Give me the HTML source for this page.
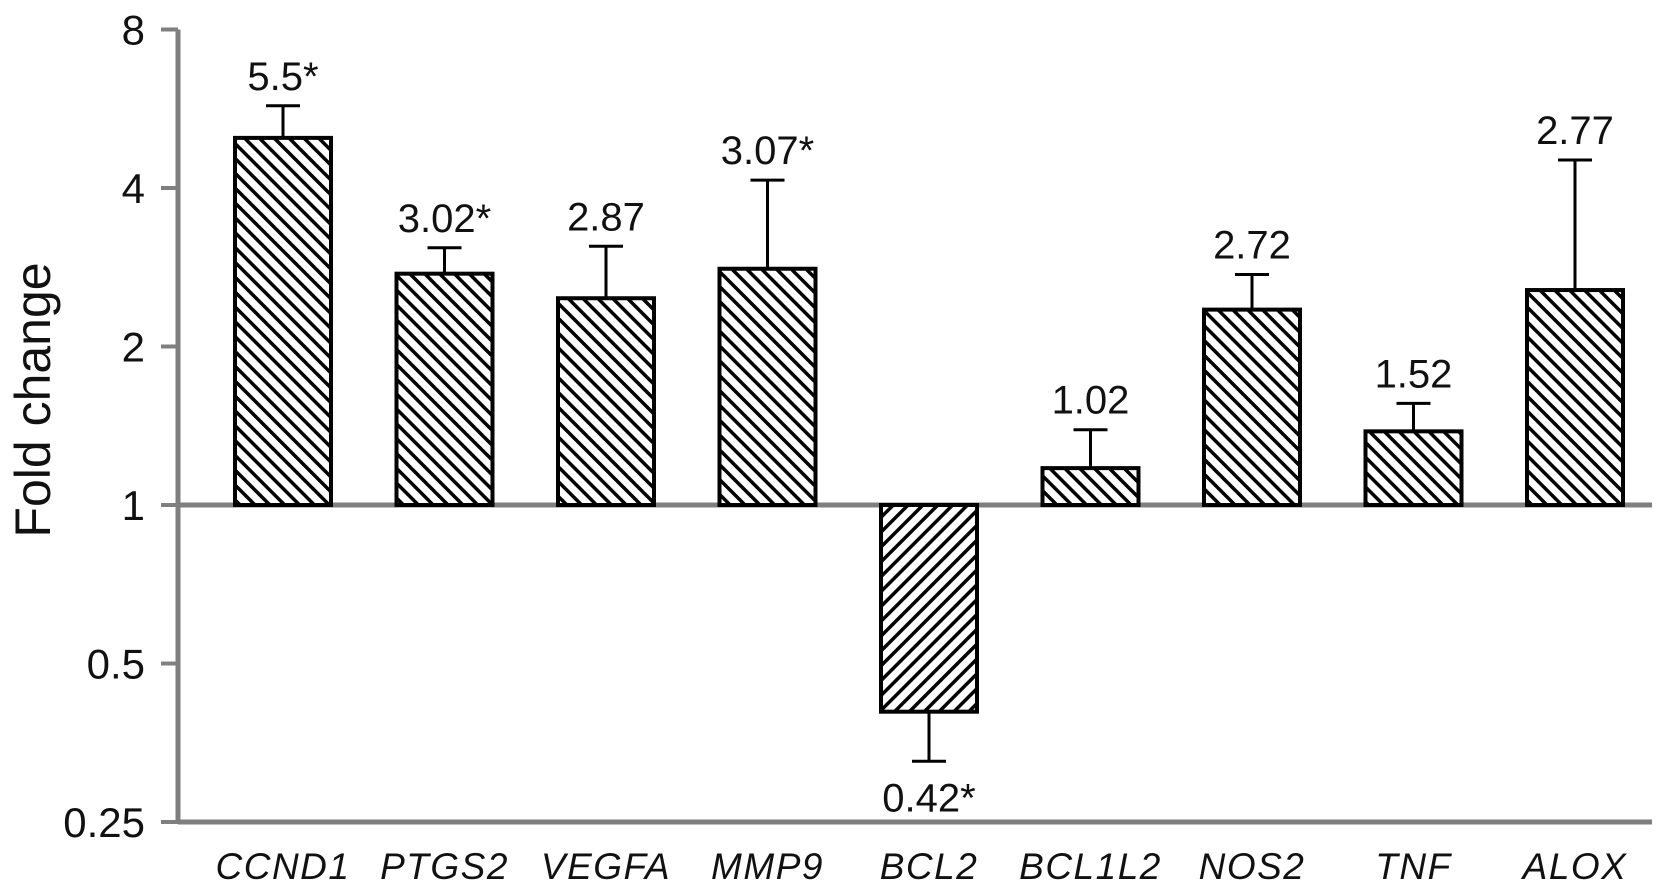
<!DOCTYPE html>
<html><head><meta charset="utf-8"><style>
html,body{margin:0;padding:0;background:#fff;}
svg{display:block;font-family:"Liberation Sans",Arial,sans-serif;}
</style></head><body>
<svg id="chart" width="1677" height="895" viewBox="0 0 1677 895">
<defs>
<pattern id="hatchA" patternUnits="userSpaceOnUse" width="10.5" height="10.5" patternTransform="rotate(-45)">
<rect width="10.5" height="10.5" fill="#fff"/><line x1="0" y1="0" x2="0" y2="10.5" stroke="#000" stroke-width="7"/></pattern>
<pattern id="hatchB" patternUnits="userSpaceOnUse" width="10.5" height="10.5" patternTransform="rotate(45)">
<rect width="10.5" height="10.5" fill="#fff"/><line x1="0" y1="0" x2="0" y2="10.5" stroke="#000" stroke-width="7"/></pattern>
</defs>
<g id="axes"></g>
<g id="bars"></g>
<text transform="translate(50,400) rotate(-90)" text-anchor="middle" font-size="50" fill="#111">Fold change</text>
</svg>
<script>
const categories = ["CCND1","PTGS2","VEGFA","MMP9","BCL2","BCL1L2","NOS2","TNF","ALOX"];
const values = [4.98, 2.75, 2.47, 2.81, 0.405, 1.175, 2.35, 1.38, 2.56];
const errorEnds = [5.73, 3.08, 3.10, 4.14, 0.326, 1.39, 2.74, 1.56, 4.52];
const valueLabels = ["5.5*","3.02*","2.87","3.07*","0.42*","1.02","2.72","1.52","2.77"];
const tickValues = [0.25, 0.5, 1, 2, 4, 8];
const tickLabels = ["0.25","0.5","1","2","4","8"];

const NS = "http://www.w3.org/2000/svg";
const y0 = 505, perDoubling = 158.5;
function yScale(v){ return y0 - Math.log2(v) * perDoubling; }
const x0 = 283, step = 161.5, barW = 96;
function xScale(i){ return x0 + i * step; }
function mk(tag, attrs, parent){ const e=document.createElementNS(NS,tag); for(const k in attrs) e.setAttribute(k, attrs[k]); parent.appendChild(e); return e; }

const axes = document.getElementById('axes');
const axisX = 178;
let e = mk('line',{x1:axisX,y1:yScale(8),x2:axisX,y2:yScale(0.25)+2,stroke:'#7f7f7f','stroke-width':5},axes);


e = mk('line',{x1:axisX,y1:yScale(0.25),x2:1652,y2:yScale(0.25),stroke:'#7f7f7f','stroke-width':5},axes);


e = mk('line',{x1:axisX,y1:yScale(1),x2:1652,y2:yScale(1),stroke:'#7f7f7f','stroke-width':5},axes);


tickValues.forEach((v,i)=>{
  const y = yScale(v);
  let t = mk('line',{x1:161,y1:y,x2:axisX,y2:y,stroke:'#7f7f7f','stroke-width':4},axes);
  
  
  let l = mk('text',{x:145,y:y+15,'text-anchor':'end','font-size':42,fill:'#111'},axes);
  l.textContent = tickLabels[i];
  
  
});

const bars = document.getElementById('bars');
categories.forEach((c,i)=>{
  const cx = xScale(i), v = values[i];
  const yv = yScale(v), yb = yScale(1);
  const top = Math.min(yv,yb), h = Math.abs(yv-yb);
  let r = mk('rect',{x:cx-barW/2,y:top,width:barW,height:h,fill: v>=1?'url(#hatchA)':'url(#hatchB)',stroke:'#000','stroke-width':4},bars);
  
  
  const ye = yScale(errorEnds[i]);
  let el = mk('line',{x1:cx,y1:yv,x2:cx,y2:ye,stroke:'#000','stroke-width':3},bars);
  
  
  let cap = mk('line',{x1:cx-17,y1:ye,x2:cx+17,y2:ye,stroke:'#000','stroke-width':3},bars);
  
  
  const ly = v>=1 ? ye-16 : ye+50;
  let lab = mk('text',{x:cx,y:ly,'text-anchor':'middle','font-size':40,fill:'#111'},bars);
  lab.textContent = valueLabels[i];
  
  
  let cl = mk('text',{x:cx,y:879,'text-anchor':'middle','font-size':37,'font-style':'italic','letter-spacing':1.5,fill:'#111'},bars);
  cl.textContent = c;
  
  
});
</script>
</body></html>
